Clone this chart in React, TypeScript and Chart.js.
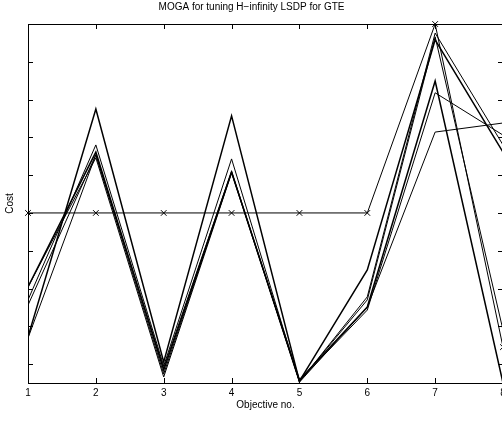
import { useEffect, useRef } from "react";
import { Chart, registerables } from "chart.js";

Chart.register(...registerables);

// Objective numbers along the x axis and their tick labels
const objectives = [1, 2, 3, 4, 5, 6, 7, 8];
const tickLabels = ["1", "2", "3", "4", "5", "6", "7", "8"];

// Goal vector (drawn with x markers)
const goal = [4.0, 4.0, 4.0, 4.0, 4.0, 4.0, 9.0, 0.45];

// Normalised cost of each candidate design on every objective
const design1 = [0.72, 6.75, 0.06, 6.57, -0.45, 2.49, 8.58, 5.61];
const design2 = [1.7, 5.8, -0.05, 5.43, -0.47, 1.78, 8.76, 5.8];
const design3 = [2.04, 5.61, -0.16, 5.08, -0.42, 1.51, 7.49, -0.5];
const design4 = [1.56, 5.54, -0.26, 5.08, -0.44, 1.43, 7.18, 6.06];
const design5 = [2.04, 5.46, -0.34, 5.06, -0.48, 1.51, 6.14, 6.38];
const design6 = [0.69, 5.54, -0.1, 5.11, -0.46, 1.7, 8.66, 0.9];

const designs = [design1, design2, design3, design4, design5, design6];
const designWidths = [1.5, 1, 1.5, 1, 1, 1];

const yMin = -0.5;
const yMax = 9;

const FONT = "'Liberation Sans', Arial, Helvetica, sans-serif";

// Box frame with inward tick marks on all four sides
const framePlugin = {
  id: "frame",
  afterDraw(chart: any) {
    const { ctx, chartArea: a, scales } = chart;
    const xs = scales.x;
    const ys = scales.y;
    const len = 5;
    ctx.save();
    ctx.strokeStyle = "#000";
    ctx.lineWidth = 1;
    ctx.strokeRect(a.left + 0.5, a.top + 0.5, a.right - a.left, a.bottom - a.top);
    ctx.beginPath();
    xs.ticks.forEach((t: any) => {
      const px = Math.round(xs.getPixelForValue(t.value)) + 0.5;
      ctx.moveTo(px, a.bottom);
      ctx.lineTo(px, a.bottom - len);
      ctx.moveTo(px, a.top);
      ctx.lineTo(px, a.top + len);
    });
    ys.ticks.forEach((t: any) => {
      if (!Number.isInteger(t.value)) return;
      const py = Math.round(ys.getPixelForValue(t.value)) + 0.5;
      ctx.moveTo(a.left, py);
      ctx.lineTo(a.left + len, py);
      ctx.moveTo(a.right, py);
      ctx.lineTo(a.right - len, py);
    });
    ctx.stroke();
    ctx.restore();
  },
};

export default function App() {
  const canvasRef = useRef<HTMLCanvasElement | null>(null);

  useEffect(() => {
    const canvas = canvasRef.current;
    if (!canvas) return;

    const toPoints = (vals: number[]) => vals.map((v, i) => ({ x: objectives[i], y: v }));

    const datasets: any[] = designs.map((d, i) => ({
      data: toPoints(d),
      borderColor: "#000",
      borderWidth: designWidths[i],
      pointRadius: 0,
      tension: 0,
      fill: false,
    }));
    datasets.push({
      data: toPoints(goal),
      borderColor: "#000",
      borderWidth: 1,
      pointStyle: "crossRot",
      pointRadius: 4,
      pointBorderWidth: 1,
      pointBorderColor: "#000",
      tension: 0,
      fill: false,
      clip: false,
    });

    const chart = new Chart(canvas, {
      type: "line",
      data: { datasets },
      options: {
        animation: false,
        responsive: false,
        devicePixelRatio: 1,
        layout: { padding: { left: 0, right: 28, top: 0, bottom: 0 } },
        plugins: {
          legend: { display: false },
          tooltip: { enabled: false },
          title: {
            display: true,
            text: "MOGA for tuning H\u2212infinity LSDP for GTE",
            color: "#000",
            font: { family: FONT, size: 10, weight: "normal" },
            padding: { top: 1, bottom: 11 },
          },
        },
        scales: {
          x: {
            type: "linear",
            min: 1,
            max: 8,
            grid: { display: false, drawTicks: false },
            border: { display: false },
            ticks: {
              stepSize: 1,
              autoSkip: false,
              maxRotation: 0,
              padding: 4,
              color: "#000",
              font: { family: FONT, size: 10 },
              callback: (v: any) => tickLabels[Number(v) - 1] ?? "",
            },
            title: {
              display: true,
              text: "Objective no.",
              color: "#000",
              font: { family: FONT, size: 10 },
              padding: { top: 0, bottom: 18 },
            },
            afterFit: (s: any) => {
              s.height = 46;
            },
          },
          y: {
            type: "linear",
            min: yMin,
            max: yMax,
            grid: { display: false, drawTicks: false },
            border: { display: false },
            ticks: { stepSize: 1, display: false },
            title: {
              display: true,
              text: "Cost",
              color: "#000",
              font: { family: FONT, size: 10 },
              padding: { top: 4, bottom: 0 },
            },
            afterFit: (s: any) => {
              s.width = 28;
            },
          },
        },
      },
      plugins: [framePlugin],
    });

    return () => chart.destroy();
  }, []);

  return (
    <div
      style={{
        position: "fixed",
        left: 0,
        top: 0,
        width: 502,
        height: 429,
        overflow: "hidden",
        background: "#fff",
      }}
    >
      <canvas ref={canvasRef} width={531} height={429} style={{ display: "block" }} />
    </div>
  );
}
